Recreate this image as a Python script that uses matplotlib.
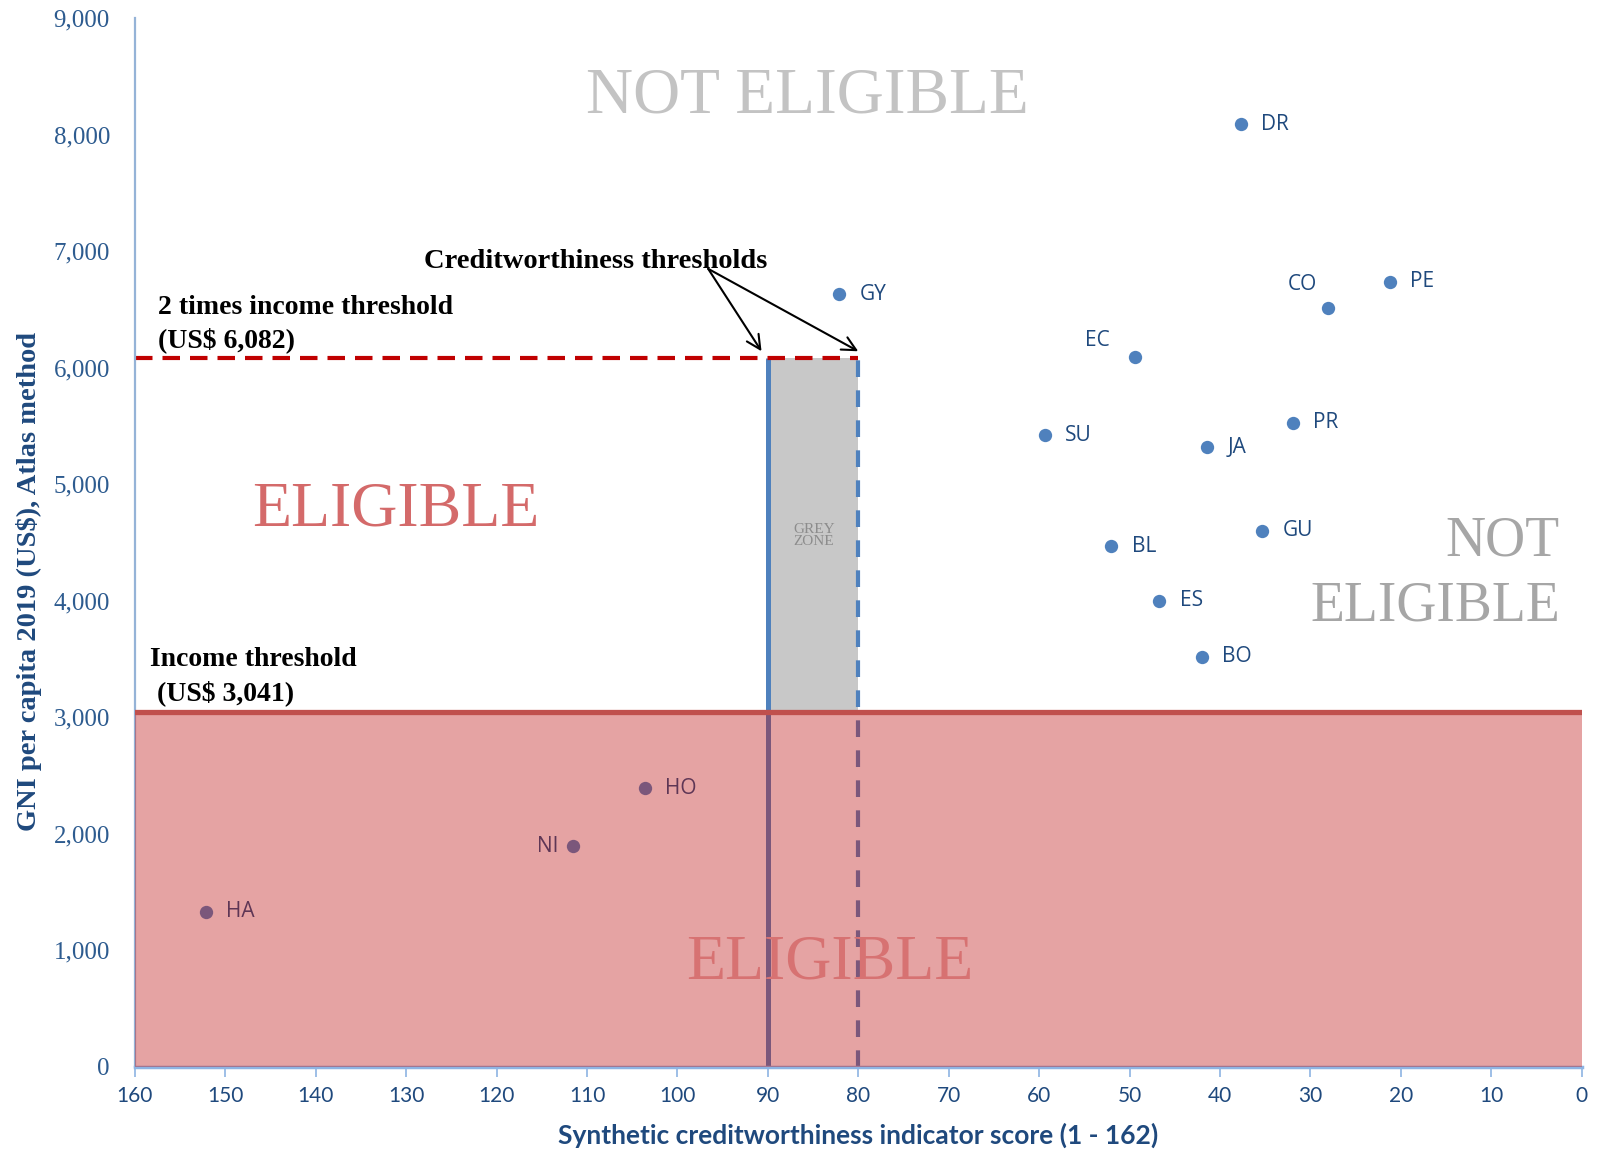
import matplotlib
matplotlib.use("Agg")
import matplotlib.pyplot as plt
from matplotlib.ticker import FuncFormatter

# ---------------- data ----------------
countries = ["DR", "GY", "CO", "PE", "EC", "SU", "PR", "JA", "BL", "GU", "ES", "BO", "HO", "NI", "HA"]
score = [37.7, 82.1, 28.0, 21.2, 49.4, 59.4, 31.9, 41.4, 52.0, 35.3, 46.7, 42.0, 103.6, 111.5, 152.1]
gni = [8090, 6630, 6510, 6740, 6090, 5420, 5530, 5320, 4470, 4600, 4000, 3520, 2390, 1890, 1330]

income_threshold = 3041
income_threshold_x2 = 6082
cw_threshold_strict = 90
cw_threshold_grey = 80
x_ticks = list(range(0, 161, 10))
y_ticks = list(range(0, 9001, 1000))

# label placement (offset in points, alignment)
label_style = {"CO": (-19, 17, "center"), "EC": (-27, 12, "center"), "NI": (-11, 0, "right")}
default_label = (14.5, 0, "left")

SERIF = ["Liberation Serif", "DejaVu Serif"]
NARROW = ["Lato", "Open Sans", "DejaVu Sans"]
SANS = ["Open Sans", "DejaVu Sans"]

BLUE = "#4f81bd"
DKBLUE = "#1f497d"
RED = "#c0504d"

fig = plt.figure(figsize=(16.02, 11.5), dpi=100)
ax = fig.add_axes([0.0842, 0.0725, 0.9873 - 0.0842, 0.984 - 0.0725])

ax.set_xlim(160, 0)
ax.set_ylim(0, 9000)

# grey zone
ax.fill_between([cw_threshold_strict, cw_threshold_grey], income_threshold, income_threshold_x2,
                color="#c8c8c8", lw=0, zorder=1)

# creditworthiness threshold lines
ax.plot([cw_threshold_strict, cw_threshold_strict], [0, income_threshold_x2], color=BLUE, lw=3.6,
        zorder=2, solid_capstyle="butt")
ax.plot([cw_threshold_grey, cw_threshold_grey], [0, income_threshold_x2], color=BLUE, lw=3.0,
        zorder=2, dashes=(4, 3.2))

# 2x income threshold dashed line
ax.plot([160, cw_threshold_grey], [income_threshold_x2, income_threshold_x2], color="#c00000",
        lw=3.0, dashes=(4.2, 2.4), zorder=2.2)

# scatter points and labels
ax.scatter(score, gni, s=92, color=BLUE, zorder=3, linewidths=0)
for c, xv, yv in zip(countries, score, gni):
    dx, dy, ha = label_style.get(c, default_label)
    ax.annotate(c, (xv, yv), xytext=(dx, dy), textcoords="offset points", ha=ha, va="center",
                fontsize=15, color=DKBLUE, family=SANS, zorder=3)

# red eligible region (translucent, on top)
ax.fill_between([160, 0], 0, income_threshold, color=(0.75, 0.1, 0.1), alpha=0.4, lw=0, zorder=4)
ax.axhline(income_threshold, color=RED, lw=3.8, zorder=5)

# region texts
ax.text(85.6, 8193, "NOT ELIGIBLE", family=SERIF, fontsize=47, color="#c3c3c3",
        ha="center", va="baseline", zorder=6)
ax.text(131.1, 4649, "ELIGIBLE", family=SERIF, fontsize=46, color="#d46a6a",
        ha="center", va="baseline", zorder=6)
ax.text(2.4, 4386, "NOT", family=SERIF, fontsize=40, color="#a6a6a6",
        ha="right", va="baseline", zorder=6)
ax.text(2.4, 3833, "ELIGIBLE", family=SERIF, fontsize=40, color="#a6a6a6",
        ha="right", va="baseline", zorder=6)
ax.text(83.2, 754, "ELIGIBLE", family=SERIF, fontsize=46, color="#d77272",
        ha="center", va="baseline", zorder=6)
ax.text(84.9, 4561, "GREY\nZONE", family=SERIF, fontsize=11, color="#8c8c8c",
        ha="center", va="center", linespacing=0.95, zorder=6)

# threshold annotations
ax.text(128.0, 6860, "Creditworthiness thresholds", family=SERIF, fontsize=20.5,
        fontweight="bold", color="black", ha="left", va="baseline", zorder=6)
for tx in (cw_threshold_strict + 0.7, cw_threshold_grey):
    ax.annotate("", xy=(tx, income_threshold_x2 + 60), xytext=(96.6, 6850),
                arrowprops=dict(arrowstyle="->", color="black", lw=1.5, mutation_scale=25,
                                shrinkA=0, shrinkB=0), zorder=6)
ax.text(157.4, 6465, "2 times income threshold", family=SERIF, fontsize=20,
        fontweight="bold", color="black", ha="left", va="baseline", zorder=6)
ax.text(157.4, 6175, "(US$ 6,082)", family=SERIF, fontsize=20,
        fontweight="bold", color="black", ha="left", va="baseline", zorder=6)
ax.text(158.3, 3439, "Income threshold", family=SERIF, fontsize=20,
        fontweight="bold", color="black", ha="left", va="baseline", zorder=6)
ax.text(158.3, 3149, " (US$ 3,041)", family=SERIF, fontsize=20,
        fontweight="bold", color="black", ha="left", va="baseline", zorder=6)

# axes styling
for s in ("top", "right"):
    ax.spines[s].set_visible(False)
ax.spines["left"].set_color("#95b3d7")
ax.spines["left"].set_linewidth(1.6)
ax.spines["bottom"].set_color("#8eb4e3")
ax.spines["bottom"].set_linewidth(2.5)

ax.set_xticks(x_ticks)
ax.set_yticks(y_ticks)
ax.yaxis.set_major_formatter(FuncFormatter(lambda v, p: f"{int(v):,}"))
ax.tick_params(axis="y", length=0, pad=18, labelsize=18, labelcolor="#2d5b8f")
ax.tick_params(axis="x", length=7, width=1.2, color="#8eb4e3", direction="out", pad=7,
               labelsize=15, labelcolor=DKBLUE)
for lbl in ax.get_yticklabels():
    lbl.set_family(SERIF)
for lbl in ax.get_xticklabels():
    lbl.set_family(NARROW)

ax.set_xlabel("Synthetic creditworthiness indicator score (1 - 162)", family=NARROW,
              fontsize=19, fontweight="bold", color=DKBLUE)
ax.xaxis.set_label_coords(0.5, -0.053)
ax.set_ylabel("GNI per capita 2019 (US$), Atlas method", family=SERIF, fontsize=20.5,
              fontweight="bold", color=DKBLUE)
ax.yaxis.set_label_coords(-0.064, 0.463)

fig.savefig("out.png", dpi=100)
